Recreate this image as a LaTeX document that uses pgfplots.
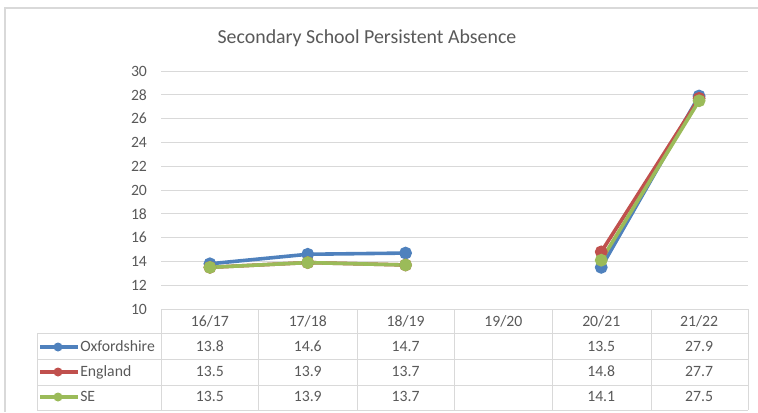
\documentclass[border=0pt]{standalone}
\usepackage{pgfplots}
\pgfplotsset{compat=1.18}
\usepackage{fontspec}
\setmainfont{Carlito}
\definecolor{txt}{HTML}{595959}
\definecolor{gridc}{HTML}{D9D9D9}
\definecolor{cblue}{HTML}{4F81BD}
\definecolor{cred}{HTML}{C0504D}
\definecolor{cgreen}{HTML}{9BBB59}
\begin{document}
\begin{tikzpicture}
\path[use as bounding box] (0,0) rectangle (568.5pt,309pt);
\begin{axis}[
  at={(120.75pt,77.25pt)}, anchor=south west,
  scale only axis, width=440.25pt, height=178.5pt,
  xmin=-0.5, xmax=5.5, ymin=10, ymax=30,
  ytick={10,12,...,30}, xtick=\empty,
  ymajorgrids, grid style={gridc, line width=0.75pt},
  axis line style={draw=none},
  major tick length=0pt,
  tick label style={font=\fontsize{11.8}{13}\selectfont, text=txt},
  yticklabel style={xshift=-7pt},
  /pgf/number format/assume math mode=true,
  unbounded coords=jump,
  clip=false,
  every axis plot/.append style={line width=2.7pt, mark=*, mark size=3.4pt},
]
\addplot[cblue, mark options={fill=cblue, draw=cblue}] coordinates {(0,13.8) (1,14.6) (2,14.7) (3,nan) (4,13.5) (5,27.9)};
\addplot[cred, mark options={fill=cred, draw=cred}] coordinates {(0,13.5) (1,13.9) (2,13.7) (3,nan) (4,14.8) (5,27.7)};
\addplot[cgreen, mark options={fill=cgreen, draw=cgreen}] coordinates {(0,13.5) (1,13.9) (2,13.7) (3,nan) (4,14.1) (5,27.5)};
\end{axis}
\begin{scope}[x=0.75pt, y=-0.75pt, yshift=309pt]
  % outer chart border
  \draw[gridc, line width=0.9pt] (5,412) -- (5,8) -- (758,8);
  % title
  \node[anchor=base, text=txt, font=\fontsize{14.9}{17}\selectfont, inner sep=0pt] at (367,43.5) {Secondary School Persistent Absence};
  % table grid
  \begin{scope}[gridc, line width=0.75pt]
    \draw (161,309) -- (748,309);
    \foreach \yy in {333,359,385,410} \draw (37,\yy) -- (748,\yy);
    \draw (37,333) -- (37,410);
    \foreach \xx in {161,258,357,454,552,651,748} \draw (\xx,309) -- (\xx,410);
  \end{scope}
  % header
  \foreach \lab [count=\i from 0] in {16/17,17/18,18/19,19/20,20/21,21/22}
    \node[anchor=base, text=txt, font=\fontsize{11.8}{13}\selectfont, inner sep=0pt] at ({161+97.83*(\i+0.5)},326.8) {\lab};
  % rows
  \def\rowA{13.8,14.6,14.7,,13.5,27.9}
  \def\rowB{13.5,13.9,13.7,,14.8,27.7}
  \def\rowC{13.5,13.9,13.7,,14.1,27.5}
  \foreach \v [count=\i from 0] in \rowA
    \node[anchor=base, text=txt, font=\fontsize{11.8}{13}\selectfont, inner sep=0pt] at ({161+97.83*(\i+0.5)},351.8) {\v};
  \foreach \v [count=\i from 0] in \rowB
    \node[anchor=base, text=txt, font=\fontsize{11.8}{13}\selectfont, inner sep=0pt] at ({161+97.83*(\i+0.5)},376.8) {\v};
  \foreach \v [count=\i from 0] in \rowC
    \node[anchor=base, text=txt, font=\fontsize{11.8}{13}\selectfont, inner sep=0pt] at ({161+97.83*(\i+0.5)},401.8) {\v};
  % legend keys
  \foreach \c/\n/\yy in {cblue/Oxfordshire/347, cred/England/372, cgreen/SE/397} {
    \draw[\c, line width=2.7pt] (40,\yy) -- (78,\yy);
    \fill[\c] (58,\yy) circle (4.5);
    \node[anchor=base west, text=txt, font=\fontsize{11.8}{13}\selectfont, inner sep=0pt] at (80,\yy+4.8) {\n};
  }
\end{scope}
\end{tikzpicture}
\end{document}
